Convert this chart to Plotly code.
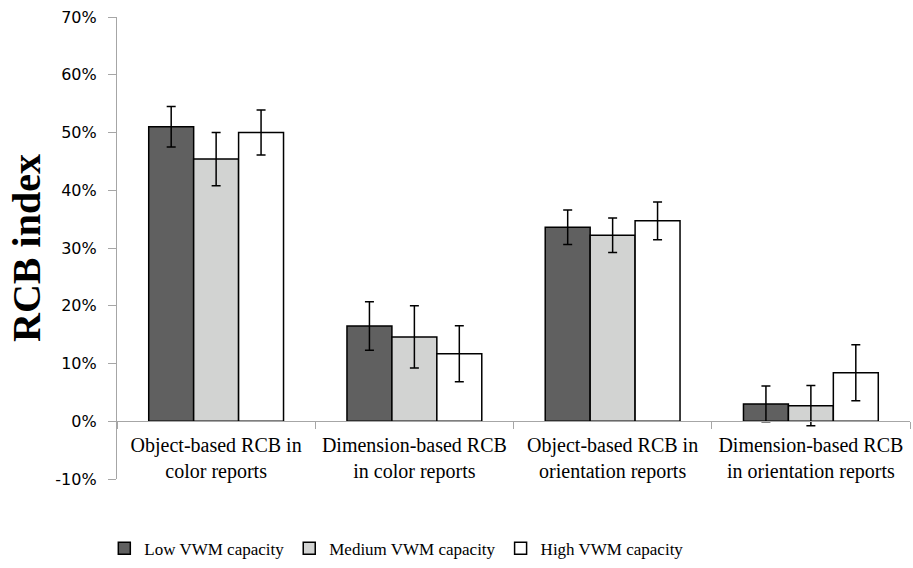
import plotly.graph_objects as go

categories = ["Object-based RCB in<br>color reports",
              "Dimension-based RCB<br>in color reports",
              "Object-based RCB in<br>orientation reports",
              "Dimension-based RCB<br>in orientation reports"]
series_names = ["Low VWM capacity", "Medium VWM capacity", "High VWM capacity"]
low_vals = [51.0, 16.5, 33.6, 3.0]
low_err = [3.5, 4.2, 3.0, 3.1]
med_vals = [45.4, 14.6, 32.2, 2.7]
med_err = [4.6, 5.4, 3.0, 3.5]
high_vals = [50.0, 11.7, 34.7, 8.4]
high_err = [3.9, 4.85, 3.25, 4.85]
y_ticks = [-10, 0, 10, 20, 30, 40, 50, 60, 70]
y_tick_labels = ["-10%", "0%", "10%", "20%", "30%", "40%", "50%", "60%", "70%"]

colors = ["#606060", "#D2D3D2", "#FFFFFF"]
vals = [low_vals, med_vals, high_vals]
errs = [low_err, med_err, high_err]

fig = go.Figure()
for name, v, e, c in zip(series_names, vals, errs, colors):
    fig.add_trace(go.Bar(
        x=categories, y=v, name=name,
        marker=dict(color=c, line=dict(color="#000000", width=1.5)),
        error_y=dict(type="data", array=e, visible=True, color="#000000",
                     thickness=1.5, width=4.5),
    ))

fig.update_layout(
    width=913, height=568,
    margin=dict(l=117, r=3, t=17, b=89, autoexpand=False),
    paper_bgcolor="white", plot_bgcolor="white",
    barmode="group", bargap=0.32, bargroupgap=0,
    font=dict(family="Liberation Serif", color="#000000"),
    showlegend=True,
    legend=dict(orientation="h", x=-0.016, xanchor="left", y=-0.112, yanchor="top",
                font=dict(family="Liberation Serif", size=17, color="#000000"),
                itemwidth=30, traceorder="normal"),
    xaxis=dict(
        anchor="free", position=0.125, automargin=False,
        showline=True, linecolor="#A6A6A6", linewidth=1.2,
        ticks="outside", tickson="boundaries", ticklen=7, tickcolor="#A6A6A6",
        ticklabelstandoff=6,
        tickfont=dict(family="Liberation Serif", size=20, color="#000000"),
        showgrid=False,
    ),
    yaxis=dict(
        range=[-10, 70], tickvals=y_ticks, ticktext=y_tick_labels,
        automargin=False,
        showline=True, linecolor="#A6A6A6", linewidth=1.2,
        ticks="outside", ticklen=8, tickcolor="#A6A6A6",
        ticklabelstandoff=8,
        tickfont=dict(family="DejaVu Sans", size=16, color="#000000"),
        showgrid=False, zeroline=False,
        title=dict(text="<b>RCB index</b>", standoff=2,
                   font=dict(family="Liberation Serif", size=40, color="#000000")),
    ),
)

fig.write_html("out.html", config={"displayModeBar": False},
               post_script="document.body.style.margin='0';")
